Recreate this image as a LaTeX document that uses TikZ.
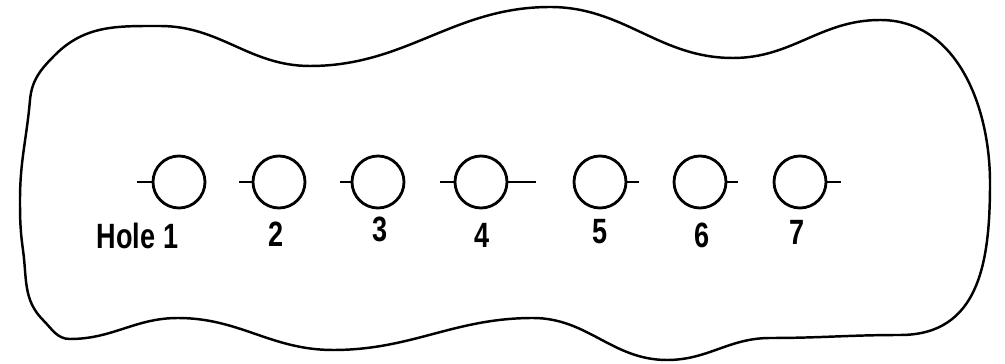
\documentclass[tikz,border=0pt]{standalone}
\usepackage{fontspec}
\setmainfont{Liberation Sans}
\usetikzlibrary{positioning}

\begin{document}
\begin{tikzpicture}[hole/.style={circle,draw,line width=1.6pt,minimum size=1.04cm,inner sep=0pt},
holelabel/.style={font=\fontsize{20}{24}\selectfont\bfseries,xscale=0.77,inner sep=0pt},
tick/.style={line width=1.2pt}]
\useasboundingbox (0,0) rectangle (20.1,7.28);
% outline of the plate
\draw[line width=1.4pt] (0.40,3.28) to[out=90,in=-95] (0.60,5.28) to[out=85,in=-135] (1.10,6.18)
 to[out=45,in=180] (3.20,6.76) to[out=0,in=180] (6.20,5.96) to[out=0,in=180] (11.00,7.14)
 to[out=0,in=180] (14.66,6.12) to[out=0,in=180] (17.60,6.88) to[out=0,in=90] (19.80,3.62)
 to[out=-90,in=0,looseness=1.15] (18.00,0.58) to[out=180,in=0] (15.40,0.52) to[out=180,in=0] (13.34,0.08)
 to[out=180,in=0] (10.66,0.92) to[out=180,in=0] (6.66,0.28) to[out=180,in=0] (3.56,0.92)
 to[out=180,in=0] (1.40,0.50) to[out=180,in=-45] (0.86,0.88) to[out=135,in=-82] (0.46,2.28)
 to[out=98,in=-90] cycle;

\node[hole] (h1) at (3.58,3.64) {};
\node[hole] (h2) at (5.58,3.64) {};
\node[hole] (h3) at (7.56,3.64) {};
\node[hole] (h4) at (9.62,3.64) {};
\node[hole] (h5) at (12.00,3.64) {};
\node[hole] (h6) at (14.00,3.64) {};
\node[hole] (h7) at (16.00,3.64) {};

\draw[tick] (h1.west) -- ++(-0.30,0);
\draw[tick] (h2.west) -- ++(-0.26,0);
\draw[tick] (h3.west) -- ++(-0.22,0);
\draw[tick] (h4.west) -- ++(-0.28,0);
\draw[tick] (h4.east) -- ++(0.56,0);
\draw[tick] (h5.east) -- ++(0.24,0);
\draw[tick] (h6.east) -- ++(0.22,0);
\draw[tick] (h7.east) -- ++(0.28,0);

\node[holelabel] (l1) at (2.75,2.57) {Hole 1};
\node[holelabel] (l2) at (5.52,2.60) {2};
\node[holelabel] (l3) at (7.60,2.70) {3};
\node[holelabel] (l4) at (9.64,2.58) {4};
\node[holelabel] (l5) at (12.00,2.64) {5};
\node[holelabel] (l6) at (14.04,2.58) {6};
\node[holelabel] (l7) at (15.94,2.64) {7};

\end{tikzpicture}
\end{document}
